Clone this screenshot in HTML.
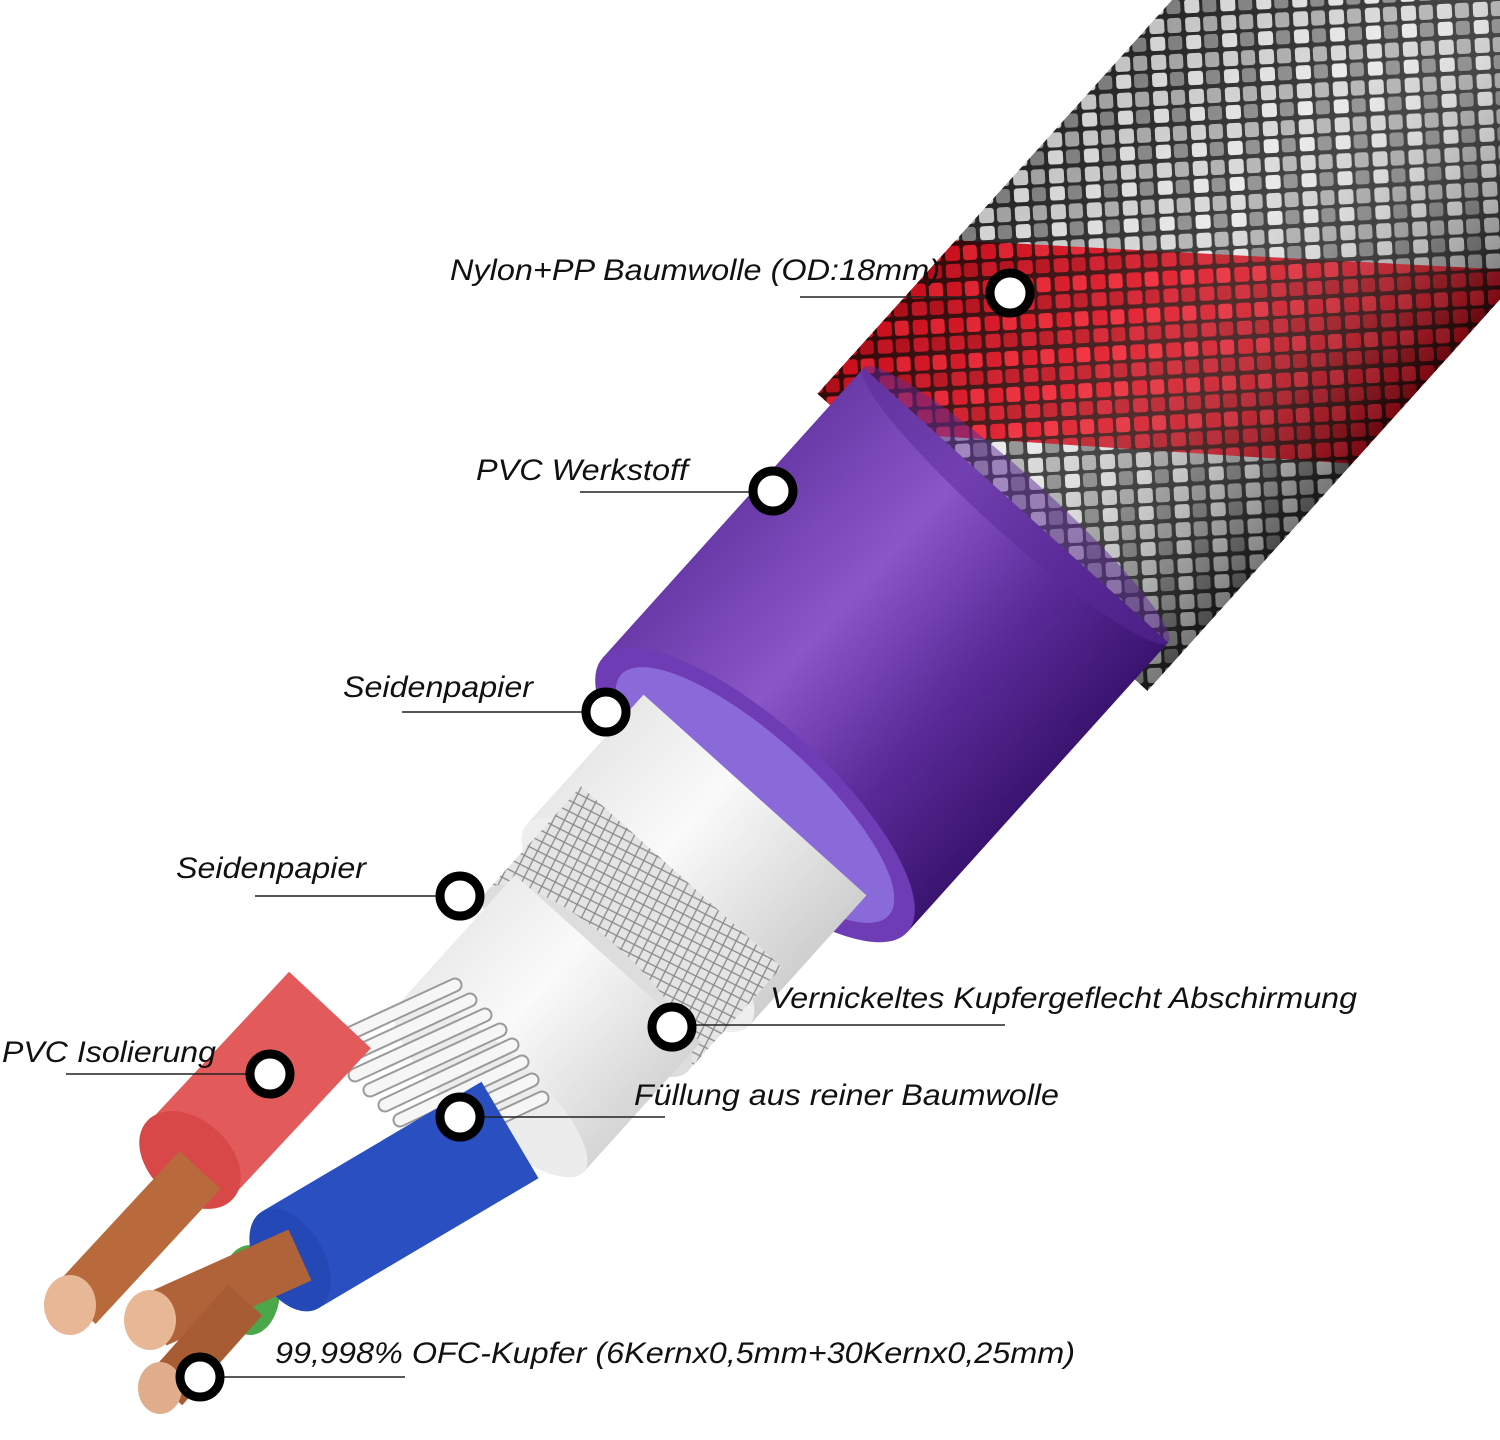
<!DOCTYPE html>
<html><head><meta charset="utf-8"><style>
html,body{margin:0;padding:0;background:#fff}
svg{display:block}
text{font-family:"Liberation Sans",sans-serif;font-style:italic;font-size:30px;fill:#111}
</style></head><body>
<svg width="1500" height="1440" viewBox="0 0 1500 1440" xmlns="http://www.w3.org/2000/svg">
<defs>
<pattern id="braid" width="36" height="36" patternUnits="userSpaceOnUse" patternTransform="rotate(45)">
<rect width="36" height="36" fill="#2a2a2a"/>
<rect x="2" y="2" width="15" height="15" rx="3" fill="#d8d8d8"/>
<rect x="20" y="20" width="14" height="14" rx="3" fill="#8a8a8a"/>
<rect x="20" y="2" width="14" height="15" rx="3" fill="#b0b0b0"/>
<rect x="2" y="20" width="15" height="14" rx="3" fill="#e8e8e8"/>
</pattern>
<pattern id="redb" width="36" height="36" patternUnits="userSpaceOnUse" patternTransform="rotate(45)">
<rect width="36" height="36" fill="#3a0a0a"/>
<rect x="2" y="2" width="15" height="15" rx="3" fill="#e01020"/>
<rect x="20" y="20" width="14" height="14" rx="3" fill="#c0101c"/>
<rect x="20" y="2" width="14" height="15" rx="3" fill="#f02030"/>
<rect x="2" y="20" width="15" height="14" rx="3" fill="#d51525"/>
</pattern>
<pattern id="mesh" width="14" height="14" patternUnits="userSpaceOnUse" patternTransform="rotate(30)">
<rect width="14" height="14" fill="#e4e4e4"/>
<path d="M0 0L14 14M14 0L0 14" stroke="#888" stroke-width="1.3"/>
</pattern>
<linearGradient id="shadeB" gradientUnits="userSpaceOnUse" x1="0" y1="-222" x2="0" y2="222">
<stop offset="0" stop-color="#000" stop-opacity="0.1"/><stop offset="0.4" stop-color="#fff" stop-opacity="0.1"/><stop offset="1" stop-color="#000" stop-opacity="0.45"/></linearGradient>
<linearGradient id="purp" gradientUnits="userSpaceOnUse" x1="0" y1="-205" x2="0" y2="205">
<stop offset="0" stop-color="#6a3aa8"/><stop offset="0.35" stop-color="#8a56c8"/><stop offset="0.7" stop-color="#5a2a98"/><stop offset="1" stop-color="#3a1470"/></linearGradient>
<linearGradient id="wht" gradientUnits="userSpaceOnUse" x1="0" y1="-150" x2="0" y2="150">
<stop offset="0" stop-color="#e8e8e8"/><stop offset="0.4" stop-color="#fafafa"/><stop offset="1" stop-color="#cfcfcf"/></linearGradient>
<clipPath id="bclip"><rect x="340" y="-222" width="1200" height="444"/></clipPath>
</defs>

<g transform="translate(755,795) rotate(-48)">
  <rect x="340" y="-222" width="1200" height="444" fill="url(#braid)"/>
  <g clip-path="url(#bclip)">
    <polygon points="290,-230 540,-230 920,240 660,240" fill="url(#redb)"/>
  </g>
  <rect x="340" y="-222" width="1200" height="444" fill="url(#shadeB)"/>
  <rect x="0" y="-205" width="390" height="410" fill="url(#purp)"/>
  <ellipse cx="390" cy="0" rx="30" ry="205" fill="#5a2a98" opacity="0.5"/>
  <ellipse cx="0" cy="0" rx="72" ry="205" fill="#6e3cb4"/>
  <ellipse cx="0" cy="0" rx="58" ry="180" fill="#8a6ad8"/>
  <rect x="-175" y="-150" width="175" height="300" fill="url(#wht)"/>
  <ellipse cx="-175" cy="0" rx="50" ry="150" fill="#eee"/>
  <rect x="-250" y="-135" width="140" height="270" fill="url(#mesh)"/>
  <ellipse cx="-250" cy="0" rx="45" ry="135" fill="#ddd"/>
  <rect x="-395" y="-125" width="175" height="250" fill="url(#wht)"/>
  <ellipse cx="-395" cy="0" rx="40" ry="125" fill="#ececec"/>
</g>

<!-- filaments -->
<g stroke-linecap="round" stroke="#9a9a9a" stroke-width="15">
  <line x1="325" y1="1045" x2="455" y2="985"/><line x1="340" y1="1060" x2="470" y2="1000"/>
  <line x1="355" y1="1075" x2="485" y2="1015"/><line x1="370" y1="1090" x2="500" y2="1030"/>
  <line x1="385" y1="1105" x2="512" y2="1045"/><line x1="400" y1="1120" x2="522" y2="1062"/>
  <line x1="415" y1="1135" x2="532" y2="1080"/><line x1="430" y1="1150" x2="542" y2="1098"/>
</g>
<g stroke-linecap="round" stroke="#f6f6f6" stroke-width="11">
  <line x1="325" y1="1045" x2="455" y2="985"/><line x1="340" y1="1060" x2="470" y2="1000"/>
  <line x1="355" y1="1075" x2="485" y2="1015"/><line x1="370" y1="1090" x2="500" y2="1030"/>
  <line x1="385" y1="1105" x2="512" y2="1045"/><line x1="400" y1="1120" x2="522" y2="1062"/>
  <line x1="415" y1="1135" x2="532" y2="1080"/><line x1="430" y1="1150" x2="542" y2="1098"/>
</g>
<line x1="330" y1="1010" x2="190" y2="1160" stroke="#e35a5a" stroke-width="112"/>
<ellipse cx="190" cy="1160" rx="40" ry="58" transform="rotate(-48 190 1160)" fill="#d84848"/>
<ellipse cx="250" cy="1290" rx="30" ry="45" fill="#4aa84a"/>
<line x1="510" y1="1130" x2="290" y2="1260" stroke="#2a4fc0" stroke-width="112"/>
<ellipse cx="290" cy="1260" rx="34" ry="56" transform="rotate(-30 290 1260)" fill="#2448b5"/>
<g stroke-linecap="butt">
  <line x1="200" y1="1170" x2="75" y2="1305" stroke="#b86a3c" stroke-width="56"/>
  <line x1="300" y1="1255" x2="155" y2="1320" stroke="#b06238" stroke-width="56"/>
  <line x1="245" y1="1300" x2="165" y2="1390" stroke="#a85c34" stroke-width="46"/>
</g>
<ellipse cx="70" cy="1305" rx="26" ry="30" fill="#e8b896"/>
<ellipse cx="150" cy="1320" rx="26" ry="30" fill="#e8b896"/>
<ellipse cx="160" cy="1388" rx="22" ry="26" fill="#e0ae8c"/>

<g stroke="#222" stroke-width="1.5">
  <line x1="800" y1="297" x2="1000" y2="297"/>
  <line x1="580" y1="492" x2="760" y2="492"/>
  <line x1="402" y1="712" x2="590" y2="712"/>
  <line x1="255" y1="896" x2="445" y2="896"/>
  <line x1="690" y1="1025" x2="1005" y2="1025"/>
  <line x1="66" y1="1074" x2="255" y2="1074"/>
  <line x1="475" y1="1117" x2="665" y2="1117"/>
  <line x1="215" y1="1377" x2="405" y2="1377"/>
</g>
<g fill="#fff" stroke="#000" stroke-width="9">
  <circle cx="1010" cy="293" r="20"/><circle cx="773" cy="491" r="20"/>
  <circle cx="606" cy="712" r="20"/><circle cx="460" cy="896" r="20"/>
  <circle cx="672" cy="1027" r="20"/><circle cx="270" cy="1074" r="20"/>
  <circle cx="460" cy="1117" r="20"/><circle cx="200" cy="1377" r="20"/>
</g>
<text x="450" y="280" textLength="490" lengthAdjust="spacingAndGlyphs">Nylon+PP Baumwolle (OD:18mm)</text>
<text x="476" y="480" textLength="212" lengthAdjust="spacingAndGlyphs">PVC Werkstoff</text>
<text x="343" y="697" textLength="190" lengthAdjust="spacingAndGlyphs">Seidenpapier</text>
<text x="176" y="878" textLength="190" lengthAdjust="spacingAndGlyphs">Seidenpapier</text>
<text x="770" y="1008" textLength="587" lengthAdjust="spacingAndGlyphs">Vernickeltes Kupfergeflecht Abschirmung</text>
<text x="2" y="1062" textLength="214" lengthAdjust="spacingAndGlyphs">PVC Isolierung</text>
<text x="634" y="1105" textLength="425" lengthAdjust="spacingAndGlyphs">Füllung aus reiner Baumwolle</text>
<text x="275" y="1363" textLength="800" lengthAdjust="spacingAndGlyphs">99,998% OFC-Kupfer (6Kernx0,5mm+30Kernx0,25mm)</text>
</svg>
</body></html>
